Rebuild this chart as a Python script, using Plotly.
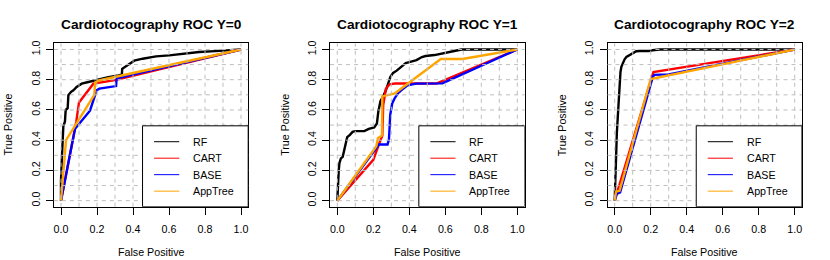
import plotly.graph_objects as go

# ---------------- data ----------------
titles = ["Cardiotocography ROC Y=0", "Cardiotocography ROC Y=1", "Cardiotocography ROC Y=2"]
models = ["RF", "CART", "BASE", "AppTree"]
model_colors = ["#000000", "#FF0000", "#0000FF", "#FFA500"]
tick_vals = [0.0, 0.2, 0.4, 0.6, 0.8, 1.0]
tick_text = ["0.0", "0.2", "0.4", "0.6", "0.8", "1.0"]
grid_vals = [0.0, 0.1, 0.2, 0.3, 0.4, 0.5, 0.6, 0.7, 0.8, 0.9, 1.0]
x_label = "False Positive"
y_label = "True Positive"

# Y=0
rf0_fpr = [0, 0, 0.007, 0.013, 0.022, 0.026, 0.037, 0.041, 0.056, 0.069, 0.087, 0.115, 0.152,
           0.189, 0.217, 0.263, 0.319, 0.338, 0.340, 0.374, 0.407, 0.454, 0.528, 0.601, 0.675,
           0.767, 0.858, 0.95, 1]
rf0_tpr = [0, 0.133, 0.339, 0.491, 0.524, 0.60, 0.611, 0.698, 0.72, 0.73, 0.752, 0.774, 0.785,
           0.796, 0.807, 0.817, 0.828, 0.833, 0.872, 0.90, 0.926, 0.939, 0.954, 0.961, 0.972,
           0.983, 0.989, 0.993, 1]
cart0_fpr = [0, 0.08, 0.085, 0.10, 0.18, 0.30, 1]
cart0_tpr = [0, 0.47, 0.524, 0.65, 0.774, 0.797, 1]
base0_fpr = [0, 0.078, 0.161, 0.198, 0.213, 0.306, 0.309, 1]
base0_tpr = [0, 0.475, 0.595, 0.73, 0.741, 0.758, 0.81, 1]
app0_fpr = [0, 0.028, 0.185, 0.19, 0.21, 1]
app0_tpr = [0, 0.40, 0.70, 0.782, 0.795, 1]

# Y=1
rf1_fpr = [0, 0.004, 0.008, 0.012, 0.02, 0.03, 0.04, 0.055, 0.07, 0.085, 0.10, 0.15, 0.175,
           0.205, 0.22, 0.228, 0.24, 0.255, 0.27, 0.285, 0.295, 0.31, 0.33, 0.36, 0.38, 0.41,
           0.44, 0.47, 0.49, 0.54, 0.60, 0.65, 0.69, 1]
rf1_tpr = [0, 0.14, 0.20, 0.25, 0.28, 0.29, 0.35, 0.42, 0.435, 0.455, 0.46, 0.46, 0.475,
           0.485, 0.51, 0.59, 0.66, 0.69, 0.73, 0.78, 0.82, 0.845, 0.86, 0.89, 0.91, 0.92,
           0.93, 0.95, 0.957, 0.963, 0.98, 0.99, 1.0, 1]
cart1_fpr = [0, 0.20, 0.24, 0.25, 0.255, 0.27, 0.29, 0.32, 0.55, 1]
cart1_tpr = [0, 0.27, 0.40, 0.43, 0.63, 0.74, 0.77, 0.775, 0.775, 1]
base1_fpr = [0, 0.231, 0.279, 0.287, 0.294, 0.305, 0.318, 0.336, 0.355, 0.39, 0.438, 0.584, 1]
base1_tpr = [0, 0.372, 0.372, 0.404, 0.567, 0.643, 0.676, 0.709, 0.73, 0.763, 0.774, 0.776, 1]
app1_fpr = [0, 0.217, 0.226, 0.24, 0.248, 0.25, 0.265, 0.32, 0.575, 0.695, 1]
app1_tpr = [0, 0.36, 0.415, 0.428, 0.43, 0.69, 0.695, 0.71, 0.937, 0.937, 1]

# Y=2
rf2_fpr = [0, 0.003, 0.007, 0.012, 0.017, 0.022, 0.027, 0.032, 0.037, 0.045, 0.055, 0.065,
           0.08, 0.10, 0.12, 0.14, 0.19, 0.21, 0.25, 1]
rf2_tpr = [0, 0.15, 0.30, 0.45, 0.55, 0.66, 0.75, 0.85, 0.885, 0.91, 0.935, 0.95,
           0.96, 0.975, 0.988, 0.99, 0.99, 0.995, 1.0, 1]
cart2_fpr = [0, 0.215, 1]
cart2_tpr = [0, 0.85, 1]
base2_fpr = [0, 0.011, 0.03, 0.212, 0.22, 0.30, 1]
base2_tpr = [0, 0.044, 0.055, 0.82, 0.832, 0.835, 1]
app2_fpr = [0, 0.007, 0.027, 0.20, 1]
app2_tpr = [0, 0.06, 0.065, 0.805, 1]

panels = [
    [(rf0_fpr, rf0_tpr), (cart0_fpr, cart0_tpr), (base0_fpr, base0_tpr), (app0_fpr, app0_tpr)],
    [(rf1_fpr, rf1_tpr), (cart1_fpr, cart1_tpr), (base1_fpr, base1_tpr), (app1_fpr, app1_tpr)],
    [(rf2_fpr, rf2_tpr), (cart2_fpr, cart2_tpr), (base2_fpr, base2_tpr), (app2_fpr, app2_tpr)],
]

# ---------------- layout geometry (pixels) ----------------
W, H = 830, 260
box_left = [53.8, 330.1, 607.5]
box_w = 194.4
box_top, box_bot = 40.9, 206.1
FONT = "Liberation Sans, Arial, Helvetica, sans-serif"
AX_RANGE = [-0.04, 1.04]
GRID_COLOR = "#bdbdbd"

fig = go.Figure()
shapes = []
annotations = []

for i, curves in enumerate(panels):
    sfx = "" if i == 0 else str(i + 1)
    xr, yr = "x" + sfx, "y" + sfx
    for (fpr, tpr), name, col in zip(curves, models, model_colors):
        fig.add_trace(go.Scatter(x=fpr, y=tpr, mode="lines", name=name,
                                 line=dict(color=col, width=2.4),
                                 xaxis=xr, yaxis=yr, showlegend=False,
                                 hoverinfo="skip"))
    dom_x = [box_left[i] / W, (box_left[i] + box_w) / W]
    dom_y = [(H - box_bot) / H, (H - box_top) / H]
    axis_common = dict(range=AX_RANGE, tickvals=tick_vals, ticktext=tick_text,
                       ticks="outside", ticklen=7, tickwidth=1, tickcolor="#000",
                       showline=True, linecolor="#000", linewidth=1, mirror=True,
                       showgrid=False, zeroline=False, fixedrange=True,
                       tickfont=dict(family=FONT, size=10.7, color="#000"))
    fig.update_layout(**{
        "xaxis" + sfx: dict(domain=dom_x, anchor=yr, ticklabelstandoff=5, **axis_common),
        "yaxis" + sfx: dict(domain=dom_y, anchor=xr, tickangle=-90, ticklabelstandoff=2,
                            **axis_common),
    })
    # grid (drawn above the curves, as in the original)
    for v in grid_vals:
        shapes.append(dict(type="line", xref=xr, yref=yr + " domain", x0=v, x1=v, y0=0, y1=1,
                           line=dict(color=GRID_COLOR, width=1, dash="4px,4px"), layer="above"))
        shapes.append(dict(type="line", xref=xr + " domain", yref=yr, x0=0, x1=1, y0=v, y1=v,
                           line=dict(color=GRID_COLOR, width=1, dash="4px,4px"), layer="above"))
    # legend box (bottom right)
    shapes.append(dict(type="rect", xref=xr, yref=yr, x0=0.453, x1=AX_RANGE[1],
                       y0=AX_RANGE[0], y1=0.495, fillcolor="white",
                       line=dict(color="#000", width=1), layer="above"))
    rows = [0.39, 0.281, 0.172, 0.063]
    for ry, name, col in zip(rows, models, model_colors):
        shapes.append(dict(type="line", xref=xr, yref=yr, x0=0.517, x1=0.657, y0=ry, y1=ry,
                           line=dict(color=col, width=1), layer="above"))
        annotations.append(dict(xref=xr, yref=yr, x=0.722, y=ry, text=name, showarrow=False,
                                xanchor="left", yanchor="middle",
                                font=dict(family=FONT, size=10.7, color="#000")))
    cx = (box_left[i] + box_w / 2) / W
    # title
    annotations.append(dict(xref="paper", yref="paper", x=cx, y=1 - 22 / H, text="<b>" + titles[i] + "</b>",
                            showarrow=False, xanchor="center", yanchor="middle",
                            font=dict(family=FONT, size=13.7, color="#000")))
    # axis titles
    annotations.append(dict(xref="paper", yref="paper", x=cx, y=1 - 251.7 / H, text=x_label,
                            showarrow=False, xanchor="center", yanchor="middle",
                            font=dict(family=FONT, size=10.7, color="#000")))
    annotations.append(dict(xref="paper", yref="paper", x=(box_left[i] - 45.3) / W,
                            y=1 - ((box_top + box_bot) / 2) / H, text=y_label, textangle=-90,
                            showarrow=False, xanchor="center", yanchor="middle",
                            font=dict(family=FONT, size=10.7, color="#000")))

fig.update_layout(width=W, height=H, margin=dict(l=0, r=0, t=0, b=0),
                  paper_bgcolor="white", plot_bgcolor="white",
                  shapes=shapes, annotations=annotations, showlegend=False)

fig.write_html("out.html", config={"displayModeBar": False},
               post_script="document.body.style.margin='0';document.body.style.overflow='hidden';")
